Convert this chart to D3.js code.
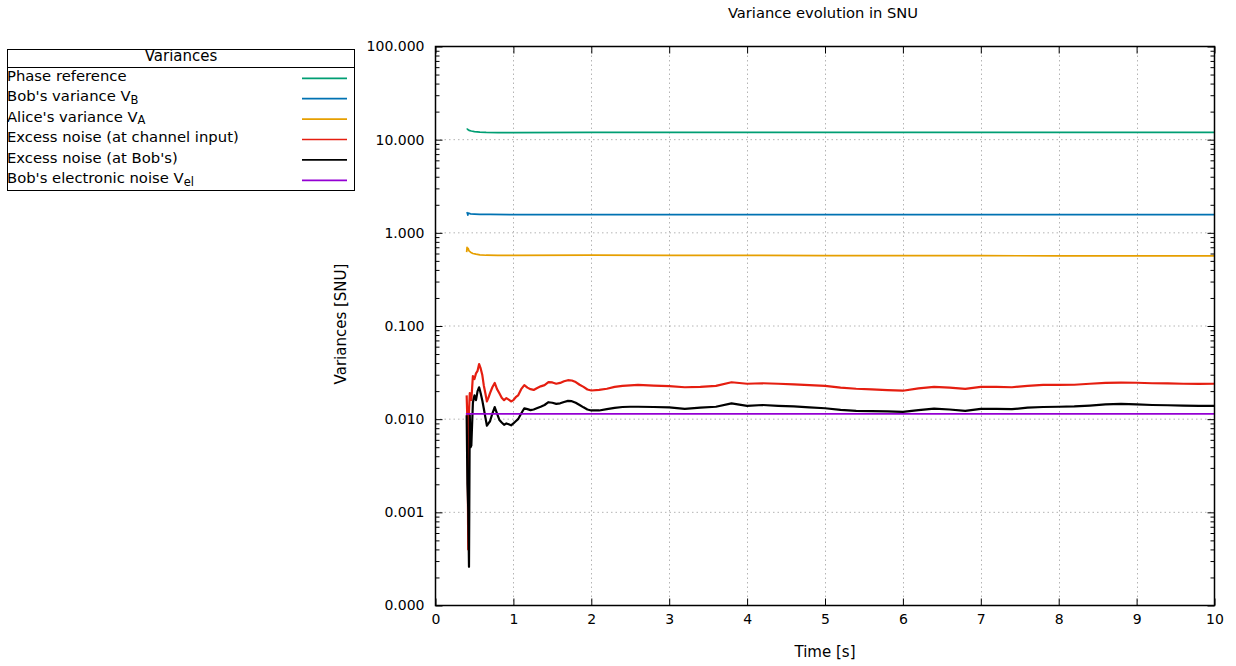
<!DOCTYPE html>
<html>
<head>
<meta charset="utf-8">
<script src="https://cdn.jsdelivr.net/npm/d3@7"></script>
<style>
  html, body { margin: 0; padding: 0; background: #fff; }
  svg { display: block; font-family: "DejaVu Sans", sans-serif; }
</style>
</head>
<body>
<svg id="chart" width="1236" height="666"></svg>
<script>
// ---------------- DATA ----------------
const chartTitle = "Variance evolution in SNU";
const xLabel = "Time [s]";
const yLabel = "Variances [SNU]";
const xTicks = [0, 1, 2, 3, 4, 5, 6, 7, 8, 9, 10];
const yTicks = [0.0001, 0.001, 0.01, 0.1, 1, 10, 100];
const legendTitle = "Variances";

// [time (s), variance (SNU)]
const phaseRef = [[0.40,12.9],[0.41,13.0],[0.43,12.6],[0.46,12.4],[0.50,12.2],[0.57,12.05],[0.65,11.95],[0.8,11.9],[1.0,11.9],[2.0,11.95],[3.0,11.95],[4.0,11.95],[5.0,11.95],[6.0,11.95],[7.0,11.95],[8.0,11.95],[9.0,11.95],[10.0,11.95]];
const bobVar = [[0.40,1.66],[0.41,1.62],[0.415,1.55],[0.42,1.63],[0.45,1.60],[0.50,1.59],[0.57,1.58],[0.7,1.575],[1.0,1.57],[2.0,1.57],[4.0,1.57],[6.0,1.57],[8.0,1.57],[10.0,1.57]];
const aliceVar = [[0.40,0.62],[0.405,0.70],[0.41,0.66],[0.42,0.68],[0.43,0.64],[0.45,0.62],[0.48,0.60],[0.52,0.59],[0.57,0.58],[0.65,0.575],[0.8,0.572],[1.0,0.572],[2.0,0.575],[3.0,0.574],[4.0,0.572],[5.0,0.570],[6.0,0.569],[7.0,0.568],[8.0,0.567],[9.0,0.566],[10.0,0.565]];
const excessIn = [[0.40,0.018],[0.41,0.0095],[0.42,0.0004],[0.43,0.012],[0.44,0.019],[0.45,0.017],[0.46,0.016],[0.48,0.029],[0.50,0.027],[0.52,0.031],[0.54,0.033],[0.56,0.039],[0.58,0.035],[0.60,0.030],[0.62,0.023],[0.64,0.019],[0.66,0.0155],[0.68,0.017],[0.70,0.019],[0.73,0.022],[0.76,0.0245],[0.79,0.021],[0.82,0.019],[0.85,0.017],[0.88,0.016],[0.91,0.0168],[0.94,0.0162],[0.97,0.0155],[1.00,0.0160],[1.03,0.0172],[1.06,0.0180],[1.10,0.021],[1.14,0.0232],[1.18,0.0218],[1.22,0.0210],[1.26,0.0206],[1.30,0.0215],[1.35,0.0225],[1.40,0.0232],[1.45,0.0250],[1.50,0.0248],[1.55,0.0240],[1.60,0.0245],[1.65,0.0255],[1.70,0.0262],[1.75,0.0260],[1.80,0.0250],[1.85,0.0234],[1.90,0.0222],[1.95,0.0208],[2.00,0.0203],[2.1,0.0206],[2.2,0.0212],[2.3,0.0222],[2.4,0.0228],[2.5,0.0230],[2.6,0.0233],[2.8,0.0229],[3.0,0.0226],[3.2,0.0220],[3.4,0.0222],[3.6,0.0228],[3.8,0.0249],[4.0,0.0240],[4.2,0.0243],[4.4,0.0240],[4.6,0.0236],[4.8,0.0232],[5.0,0.0228],[5.2,0.0218],[5.4,0.0212],[5.6,0.0209],[5.8,0.0205],[6.0,0.0202],[6.2,0.0214],[6.4,0.0222],[6.6,0.0218],[6.8,0.0211],[7.0,0.0222],[7.2,0.0222],[7.4,0.0220],[7.6,0.0228],[7.8,0.0233],[8.0,0.0233],[8.2,0.0234],[8.4,0.0240],[8.6,0.0245],[8.8,0.0247],[9.0,0.0246],[9.2,0.0243],[9.4,0.0242],[9.6,0.0240],[9.8,0.0239],[10.0,0.0240]];
const excessBob = [[0.40,0.011],[0.41,0.002],[0.42,0.0011],[0.43,0.00026],[0.44,0.011],[0.45,0.005],[0.46,0.0052],[0.48,0.015],[0.50,0.018],[0.52,0.016],[0.54,0.020],[0.56,0.022],[0.58,0.019],[0.60,0.016],[0.62,0.013],[0.64,0.0105],[0.66,0.0085],[0.68,0.0090],[0.70,0.0095],[0.73,0.0115],[0.76,0.0135],[0.79,0.0115],[0.82,0.0098],[0.85,0.0092],[0.88,0.0087],[0.91,0.0090],[0.94,0.0088],[0.97,0.0086],[1.00,0.0090],[1.03,0.0095],[1.06,0.0100],[1.10,0.0115],[1.14,0.0131],[1.18,0.0128],[1.22,0.0125],[1.26,0.0127],[1.30,0.0131],[1.35,0.0136],[1.40,0.0142],[1.45,0.0152],[1.50,0.0150],[1.55,0.0146],[1.60,0.0148],[1.65,0.0153],[1.70,0.0157],[1.75,0.0156],[1.80,0.0150],[1.85,0.0142],[1.90,0.0134],[1.95,0.0127],[2.00,0.0124],[2.1,0.0124],[2.2,0.0128],[2.3,0.0132],[2.4,0.0135],[2.5,0.0136],[2.6,0.0136],[2.8,0.0135],[3.0,0.0134],[3.2,0.0129],[3.4,0.0133],[3.6,0.0136],[3.8,0.0148],[4.0,0.0139],[4.2,0.0142],[4.4,0.0139],[4.6,0.0137],[4.8,0.0134],[5.0,0.0131],[5.2,0.0126],[5.4,0.0123],[5.6,0.0122],[5.8,0.0121],[6.0,0.0120],[6.2,0.0125],[6.4,0.0130],[6.6,0.0127],[6.8,0.0123],[7.0,0.0129],[7.2,0.0129],[7.4,0.0128],[7.6,0.0133],[7.8,0.0135],[8.0,0.0136],[8.2,0.0137],[8.4,0.0140],[8.6,0.0144],[8.8,0.0146],[9.0,0.0144],[9.2,0.0142],[9.4,0.0141],[9.6,0.0140],[9.8,0.0139],[10.0,0.0139]];
const elecNoise = [[0.39,0.0114],[10.0,0.0114]];

const seriesNames = [
  ["Phase reference", ""],
  ["Bob's variance V", "B"],
  ["Alice's variance V", "A"],
  ["Excess noise (at channel input)", ""],
  ["Excess noise (at Bob's)", ""],
  ["Bob's electronic noise V", "el"]
];
const seriesColors = ["#009e73", "#0072b2", "#e69f00", "#e51e10", "#000000", "#9400d3"];
const seriesData = [phaseRef, bobVar, aliceVar, excessIn, excessBob, elecNoise];

// ---------------- LAYOUT ----------------
const L = 435.5, R = 1214.5, T = 46.5, B = 605.5;
const svg = d3.select("#chart");
const x = d3.scaleLinear().domain([0, 10]).range([L, R]);
const y = d3.scaleLog().domain([1e-4, 100]).range([B, T]);

const fs = 14;     // tick digits
const fsT = 15;    // text labels

// grid
const grid = svg.append("g").attr("stroke", "#b4b4b4").attr("stroke-width", 1).attr("stroke-dasharray", "1.5,3");
xTicks.filter(d => d > 0 && d < 10).forEach(d => {
  grid.append("line").attr("x1", Math.round(x(d)) + 0.5).attr("x2", Math.round(x(d)) + 0.5).attr("y1", T).attr("y2", B);
});
yTicks.filter(d => d > 1e-4 && d < 100).forEach(d => {
  grid.append("line").attr("x1", L).attr("x2", R).attr("y1", y(d)).attr("y2", y(d));
});

// minor ticks
const minors = [];
for (let e = -4; e < 2; e++) for (let m = 2; m <= 9; m++) minors.push(m * Math.pow(10, e));

const fmt = d3.format(".3f");
function styleAxis(g) {
  g.select(".domain").remove();
  g.selectAll("line").attr("stroke", "#000").attr("stroke-width", 1);
  g.selectAll("text").attr("font-size", fs).attr("font-family", "DejaVu Sans, sans-serif").attr("fill", "#000");
}
svg.append("g").attr("transform", `translate(${L},0)`)
  .call(d3.axisLeft(y).tickValues(yTicks).tickFormat(fmt).tickSizeInner(-7).tickSizeOuter(0).tickPadding(11))
  .call(styleAxis);
svg.append("g").attr("transform", `translate(${L},0)`)
  .call(d3.axisLeft(y).tickValues(minors).tickFormat("").tickSizeInner(-4).tickSizeOuter(0))
  .call(styleAxis);
svg.append("g").attr("transform", `translate(${R},0)`)
  .call(d3.axisRight(y).tickValues(yTicks).tickFormat("").tickSizeInner(-7).tickSizeOuter(0))
  .call(styleAxis);
svg.append("g").attr("transform", `translate(${R},0)`)
  .call(d3.axisRight(y).tickValues(minors).tickFormat("").tickSizeInner(-4).tickSizeOuter(0))
  .call(styleAxis);
svg.append("g").attr("transform", `translate(0,${B})`)
  .call(d3.axisBottom(x).tickValues(xTicks).tickFormat(d3.format("d")).tickSizeInner(-7).tickSizeOuter(0).tickPadding(9))
  .call(styleAxis);
svg.append("g").attr("transform", `translate(0,${T})`)
  .call(d3.axisTop(x).tickValues(xTicks).tickFormat("").tickSizeInner(-7).tickSizeOuter(0))
  .call(styleAxis);

// series
const line = d3.line().x(d => x(d[0])).y(d => y(d[1]));
const clip = svg.append("defs").append("clipPath").attr("id", "clip");
clip.append("rect").attr("x", L).attr("y", T).attr("width", R - L).attr("height", B - T);
const plot = svg.append("g").attr("clip-path", "url(#clip)");
seriesData.forEach((data, i) => {
  plot.append("path").datum(data)
    .attr("d", line)
    .attr("fill", "none")
    .attr("stroke", seriesColors[i])
    .attr("stroke-width", (i === 3 || i === 4) ? 2.2 : 1.7)
    .attr("stroke-linejoin", "round");
});

// frame
svg.append("rect").attr("x", L).attr("y", T).attr("width", R - L).attr("height", B - T)
  .attr("fill", "none").attr("stroke", "#000").attr("stroke-width", 1.5);

// labels
svg.append("text").attr("x", 823).attr("y", 18).attr("text-anchor", "middle").attr("font-size", 14.7).text(chartTitle);
svg.append("text").attr("x", 825).attr("y", 657).attr("text-anchor", "middle").attr("font-size", fsT).text(xLabel);
svg.append("text").attr("transform", "translate(346,324) rotate(-90)").attr("text-anchor", "middle").attr("font-size", fsT).text(yLabel);

// legend
const lg = svg.append("g");
lg.append("rect").attr("x", 7.5).attr("y", 49.5).attr("width", 347).attr("height", 141)
  .attr("fill", "#fff").attr("stroke", "#000").attr("stroke-width", 1);
lg.append("line").attr("x1", 7.5).attr("x2", 354.5).attr("y1", 67.5).attr("y2", 67.5).attr("stroke", "#000").attr("stroke-width", 1);
lg.append("text").attr("x", 181).attr("y", 61).attr("text-anchor", "middle").attr("font-size", fsT).text(legendTitle);
seriesNames.forEach((nm, i) => {
  const by = 81 + 20.4 * i;
  const t = lg.append("text").attr("x", 7).attr("y", by).attr("font-size", 14.8);
  t.append("tspan").text(nm[0]);
  if (nm[1]) t.append("tspan").attr("font-size", 11.5).attr("dy", 2.5).text(nm[1]);
  lg.append("line").attr("x1", 302).attr("x2", 347).attr("y1", by - 2.7).attr("y2", by - 2.7)
    .attr("stroke", seriesColors[i]).attr("stroke-width", 1.7);
});
</script>
</body>
</html>
